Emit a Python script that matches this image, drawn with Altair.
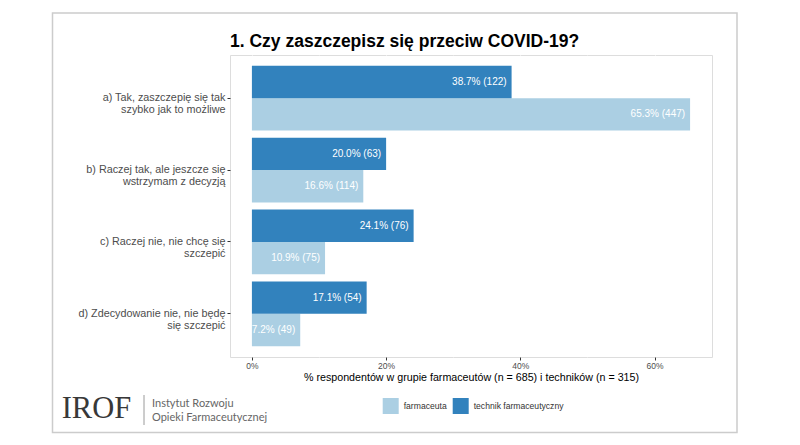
import altair as alt
import pandas as pd

# ---- data ----
categories = [
    "a) Tak, zaszczepię się tak\nszybko jak to możliwe",
    "b) Raczej tak, ale jeszcze się\nwstrzymam z decyzją",
    "c) Raczej nie, nie chcę się\nszczepić",
    "d) Zdecydowanie nie, nie będę\nsię szczepić",
]
groups = ["farmaceuta", "technik farmaceutyczny"]
farm_pct = [65.3, 16.6, 10.9, 7.2]
farm_n = [447, 114, 75, 49]
tech_pct = [38.7, 20.0, 24.1, 17.1]
tech_n = [122, 63, 76, 54]
x_ticks = [0, 10, 20, 30, 40, 50, 60]

title_text = "1. Czy zaszczepisz się przeciw COVID-19?"
x_title = "% respondentów w grupie farmaceutów (n = 685) i techników (n = 315)"
logo_main = "IROF"
logo_line1 = "Instytut Rozwoju"
logo_line2 = "Opieki Farmaceutycznej"

rows = []
for c, p, n in zip(categories, farm_pct, farm_n):
    rows.append({"cat": c, "grp": groups[0], "pct": p, "lab": f"{p:.1f}% ({n})"})
for c, p, n in zip(categories, tech_pct, tech_n):
    rows.append({"cat": c, "grp": groups[1], "pct": p, "lab": f"{p:.1f}% ({n})"})
df = pd.DataFrame(rows)

LIGHT = "#abcfe3"
DARK = "#3282bd"
FONT = "Liberation Sans"

y_enc = alt.Y(
    "cat:N",
    sort=categories,
    title=None,
    scale=alt.Scale(paddingInner=0.1, paddingOuter=0.15),
    axis=alt.Axis(
        labelExpr="split(datum.label, '\\n')",
        labelFontSize=10.8,
        labelLineHeight=11.7,
        labelColor="#4d4d4d",
        labelFont=FONT,
        labelPadding=2,
        labelLimit=300,
        tickColor="#333333",
        tickSize=3,
        domain=False,
        gridColor="white",
        gridWidth=1.1,
    ),
)
yoff_enc = alt.YOffset(
    "grp:N",
    sort=["technik farmaceutyczny", "farmaceuta"],
    scale=alt.Scale(paddingInner=0, paddingOuter=0),
)
x_scale = alt.Scale(domain=[-3.265, 68.565], nice=False, zero=False)

bars = alt.Chart(df).mark_bar().encode(
    x=alt.X(
        "pct:Q",
        scale=x_scale,
        title=x_title,
        axis=alt.Axis(
            values=x_ticks,
            labelExpr="datum.value % 20 === 0 ? datum.value + '%' : ''",
            labelFontSize=8.5,
            labelColor="#4d4d4d",
            labelFont=FONT,
            labelPadding=1,
            tickColor="#333333",
            tickSize=3,
            tickOpacity={"condition": {"test": "datum.value % 20 === 0", "value": 1}, "value": 0},
            domain=False,
            gridColor="white",
            gridWidth={"condition": {"test": "datum.value % 20 === 0", "value": 1.1}, "value": 0.55},
            titleFontSize=10.7,
            titleFontWeight="normal",
            titleColor="black",
            titleFont=FONT,
            titlePadding=3,
        ),
    ),
    x2=alt.datum(0),
    y=y_enc,
    yOffset=yoff_enc,
    color=alt.Color(
        "grp:N",
        scale=alt.Scale(domain=groups, range=[LIGHT, DARK]),
        legend=alt.Legend(
            title=None,
            orient="none",
            legendX=152.7,
            legendY=343,
            direction="horizontal",
            symbolType="square",
            symbolSize=256,
            symbolStrokeWidth=0,
            symbolOpacity=1,
            labelFontSize=8.6,
            labelFont=FONT,
            labelColor="#333333",
            labelOffset=5,
            columnPadding=6,
            padding=0,
        ),
    ),
)

labels = alt.Chart(df).mark_text(
    align="right", baseline="middle", dx=-5, color="white", fontSize=10, font=FONT
).encode(
    x=alt.X("pct:Q", scale=x_scale),
    y=alt.Y("cat:N", sort=categories),
    yOffset=yoff_enc,
    text="lab:N",
)

one = pd.DataFrame({"t": [title_text]})
title = alt.Chart(one).mark_text(
    align="left", baseline="alphabetic", fontSize=17.5, fontWeight="bold", font=FONT, color="black"
).encode(x=alt.value(0), y=alt.value(-8.3), text="t:N")

border = alt.Chart(one).mark_rect(fill="transparent", stroke="#cccccc", strokeWidth=1.5).encode(
    x=alt.value(-177.5), x2=alt.value(507), y=alt.value(-42), y2=alt.value(377.5)
)

logo_df = pd.DataFrame({"t": [logo_main]})
logo = alt.Chart(logo_df).mark_text(
    align="left", baseline="alphabetic", fontSize=30.5, font="Liberation Serif", color="#383838"
).encode(x=alt.value(-168.3), y=alt.value(362.7), text="t:N")

divider = alt.Chart(one).mark_rule(color="#9a9a9a", strokeWidth=1).encode(
    x=alt.value(-86), y=alt.value(340), y2=alt.value(370)
)

l1 = alt.Chart(pd.DataFrame({"t": [logo_line1]})).mark_text(
    align="left", baseline="middle", fontSize=11, font="Lato", color="#666666"
).encode(x=alt.value(-78), y=alt.value(349), text="t:N")
l2 = alt.Chart(pd.DataFrame({"t": [logo_line2]})).mark_text(
    align="left", baseline="middle", fontSize=11, font="Lato", color="#666666"
).encode(x=alt.value(-78), y=alt.value(363), text="t:N")

chart = (
    alt.layer(border, bars, labels, title, logo, divider, l1, l2)
    .properties(
        width=482,
        height=302,
        padding={"left": 222, "top": 47, "right": 40, "bottom": 80},
        autosize=alt.AutoSizeParams(type="none"),
        background="white",
    )
    .configure_view(fill="#ebebeb", strokeWidth=0)
    .configure(font=FONT)
)

chart.save("out.html", embed_options={"renderer": "svg", "actions": False})
